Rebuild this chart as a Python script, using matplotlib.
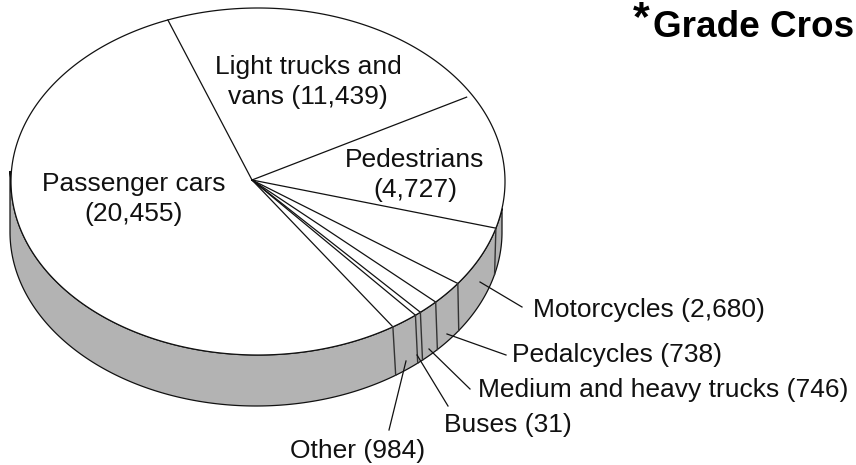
import numpy as np
import matplotlib
matplotlib.use("Agg")
import matplotlib.pyplot as plt
from matplotlib.patches import Polygon

plt.rcParams['font.family'] = ['Liberation Sans', 'DejaVu Sans']

categories = ["Light trucks and\nvans", "Pedestrians\n", "Motorcycles", "Pedalcycles",
              "Medium and heavy trucks", "Buses", "Other", "Passenger cars\n"]
fatalities = [11439, 4727, 2680, 738, 746, 31, 984, 20455]
# Sweep of each slice as drawn in the picture, degrees clockwise
drawn_sweep = [81.5, 45.5, 20.4, 8.0, 4.9, 1.5, 6.5, 191.0]
start_angle = 111.4

label_xy = [(308, 74), (415, 167), (533, 317), (512, 362), (478, 397), (444, 432), (290, 458), (134, 191)]
label_ha = ["center", "center", "left", "left", "left", "left", "left", "center"]
leaders = [None, None,
           ((480, 282), (522, 307)), ((447, 334), (506, 355)), ((429, 349), (470, 389)),
           ((417, 355), (448, 406)), ((406, 361), (389, 430)), None]

W, H = 856, 465
fig = plt.figure(figsize=(W / 100, H / 100), dpi=100)
ax = fig.add_axes([0, 0, 1, 1])
ax.set_xlim(0, W)
ax.set_ylim(H, 0)
ax.axis("off")

LW = 0.9
INK = "#111111"
WALL = "#b3b3b3"
FS = 19


def rim(t):
    t = np.radians(t)
    return np.array([258 + 247 * np.cos(t), 181.5 - 173.5 * np.sin(t)]).T


def base(t):
    t = np.radians(t)
    return np.array([256 + 246 * np.cos(t), 232 - 174 * np.sin(t)]).T


# side wall
base_arc = base(np.linspace(180, 360, 300))
rim_back = rim(np.linspace(-8.9, -180, 300))
wall = np.vstack([[(10, 171)], [(10, 232)], base_arc, rim_back])
ax.add_patch(Polygon(wall, closed=True, fc=WALL, ec=INK, lw=LW, zorder=1))

# top face
ax.add_patch(Polygon(rim(np.linspace(0, 360, 720)), closed=True, fc="white", ec=INK, lw=LW, zorder=2))

# spokes and wall edges
hub = np.array([252, 180])
edges = start_angle - np.cumsum([0] + drawn_sweep[:-1])
for i, a in enumerate(edges):
    a = ((a + 180) % 360) - 180
    tip = rim(a)
    if i == 1:
        tip = hub + (tip - hub) * 0.975
    ax.plot([hub[0], tip[0]], [hub[1], tip[1]], color=INK, lw=LW, zorder=3)
    if -90 < a < 0:
        b = base(a + 1.5)
        ax.plot([tip[0], b[0]], [tip[1], b[1]], color="#333333", lw=1.0, zorder=3)

# labels
for name, value, xy, ha, lead in zip(categories, fatalities, label_xy, label_ha, leaders):
    if name.endswith("\n"):
        txt = f"{name}({value:,})"
    else:
        txt = f"{name} ({value:,})"
    lines = txt.split("\n")
    for j, line in enumerate(lines):
        ax.text(xy[0], xy[1] + j * 29.5, line, fontsize=FS, ha=ha, va="baseline", color="#111111", zorder=4)
    if lead:
        ax.plot([lead[0][0], lead[1][0]], [lead[0][1], lead[1][1]], color=INK, lw=LW, zorder=4)

ax.text(653, 37, "Grade Cros", fontsize=26.6, fontweight="bold", ha="left", va="baseline", color="black")
ax.text(633, 30, "*", fontsize=31, fontweight="bold", ha="left", va="baseline", color="black")

fig.savefig("out.png", dpi=100)
